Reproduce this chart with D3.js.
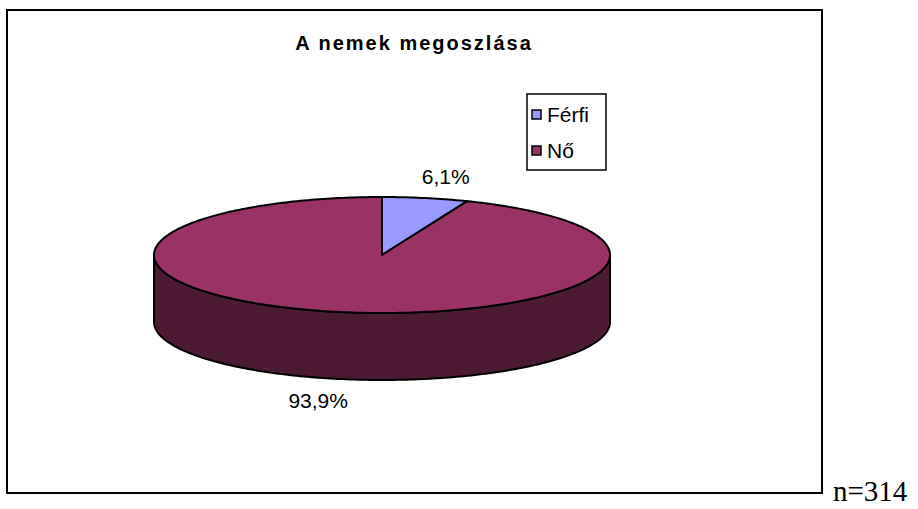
<!DOCTYPE html>
<html>
<head>
<meta charset="utf-8">
<script src="https://cdn.jsdelivr.net/npm/d3@7"></script>
<style>
  body { margin: 0; background: #fff; }
  svg { display: block; }
</style>
</head>
<body>
<script>
const categories = ["Férfi", "Nő"];
const values = [6.1, 93.9];
const labels = ["6,1%", "93,9%"];
const colors = ["#9999FF", "#993366"];
const sideColors = ["#4D4D80", "#4D1A33"];
const title = "A nemek megoszlása";
const note = "n=314";

const W = 918, H = 509;
const cx = 382, cy = 255, rx = 228, ry = 58, depth = 67;
const labelRx = 335, labelRy = 80;

const svg = d3.select("body").append("svg")
    .attr("width", W)
    .attr("height", H);

// chart frame
svg.append("rect")
    .attr("x", 7).attr("y", 10)
    .attr("width", 815).attr("height", 483)
    .attr("fill", "#fff")
    .attr("stroke", "#000")
    .attr("stroke-width", 2);

svg.append("text")
    .attr("x", 414).attr("y", 50)
    .attr("text-anchor", "middle")
    .style("font-family", "'Liberation Sans', Arial, sans-serif")
    .style("font-weight", "bold")
    .style("font-size", "20px")
    .style("letter-spacing", "2px")
    .text(title);

svg.append("text")
    .attr("x", 833).attr("y", 501)
    .style("font-family", "'Liberation Serif', 'Times New Roman', serif")
    .style("font-size", "29px")
    .text(note);

const pie = d3.pie().sort(null).value(d => d)(values);

// angle measured clockwise from 12 o'clock
const ex = a => cx + rx * Math.sin(a);
const ey = a => cy - ry * Math.cos(a);
const step = Math.PI / 180;

function arcPoints(a0, a1, dy) {
    const n = Math.max(2, Math.ceil(Math.abs(a1 - a0) / step));
    return d3.range(n + 1).map(i => {
        const a = a0 + (a1 - a0) * i / n;
        return [ex(a), ey(a) + dy];
    });
}

const line = d3.line();

// side walls (only front half visible: PI/2 .. 3PI/2)
pie.forEach((s, i) => {
    const a0 = Math.max(s.startAngle, Math.PI / 2);
    const a1 = Math.min(s.endAngle, 3 * Math.PI / 2);
    if (a1 <= a0) return;
    const pts = arcPoints(a0, a1, 0).concat(arcPoints(a1, a0, depth));
    svg.append("path")
        .attr("d", line(pts) + "Z")
        .attr("fill", sideColors[i])
        .attr("stroke", "#000")
        .attr("stroke-width", 2)
        .attr("stroke-linejoin", "round");
});

// top faces
pie.forEach((s, i) => {
    const pts = [[cx, cy]].concat(arcPoints(s.startAngle, s.endAngle, 0));
    svg.append("path")
        .attr("d", line(pts) + "Z")
        .attr("fill", colors[i])
        .attr("stroke", "#000")
        .attr("stroke-width", 2)
        .attr("stroke-linejoin", "round");
});

// data labels
pie.forEach((s, i) => {
    const mid = (s.startAngle + s.endAngle) / 2;
    const front = Math.cos(mid) < 0;
    const x = cx + labelRx * Math.sin(mid);
    const y = cy - labelRy * Math.cos(mid) + (front ? depth : 0);
    svg.append("text")
        .attr("x", x).attr("y", y)
        .attr("dy", "0.35em")
        .attr("text-anchor", "middle")
        .style("font-family", "'Liberation Sans', Arial, sans-serif")
        .style("font-size", "21px")
        .text(labels[i]);
});

// legend
const legend = svg.append("g");
legend.append("rect")
    .attr("x", 527).attr("y", 94)
    .attr("width", 79).attr("height", 76)
    .attr("fill", "#fff")
    .attr("stroke", "#000")
    .attr("stroke-width", 1.5);

const ly = d3.scalePoint().domain(categories).range([114.5, 150.5]);

categories.forEach((c, i) => {
    legend.append("rect")
        .attr("x", 532).attr("y", ly(c) - 4.5)
        .attr("width", 9).attr("height", 9)
        .attr("fill", colors[i])
        .attr("stroke", "#000")
        .attr("stroke-width", 1.5);
    legend.append("text")
        .attr("x", 547).attr("y", ly(c))
        .attr("dy", "0.35em")
        .style("font-family", "'Liberation Sans', Arial, sans-serif")
        .style("font-size", "21px")
        .text(c);
});
</script>
</body>
</html>
